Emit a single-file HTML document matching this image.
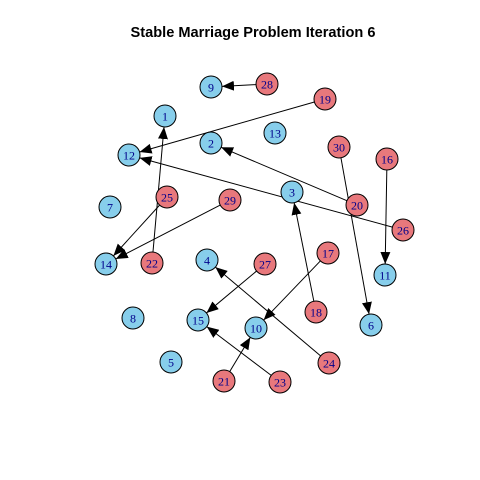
<!DOCTYPE html>
<html><head><style>body{margin:0;background:#fff}svg{display:block}</style></head>
<body>
<svg id="s" width="480" height="480" xmlns="http://www.w3.org/2000/svg">
<defs><marker id="a" markerWidth="12" markerHeight="10" refX="12" refY="5" orient="auto" markerUnits="userSpaceOnUse"><path d="M0,0 L12,5 L0,10 z" fill="#000"/></marker></defs>
<text x="253" y="37" text-anchor="middle" font-family="Liberation Sans, sans-serif" font-weight="bold" font-size="14.6">Stable Marriage Problem Iteration 6</text>
<g id="e"></g><g id="n"></g>
</svg>
<script>
var B={9:[211,87],1:[165,116],13:[275,133],2:[211,143],12:[129,155],7:[110,207],3:[292,192],14:[106,264],4:[207,260],11:[385,275],8:[133,318],15:[198,320],10:[256,328],6:[371,325],5:[171,362]};
var R={28:[267,84],19:[325,99],30:[339,147],16:[387,159],25:[167,197],29:[230,200],20:[357,205],26:[403,230],22:[152,263],27:[265,264],17:[328,253],18:[316,312],24:[329,363],21:[224,381],23:[280,382]};
var E=[[28,9,1],[19,12,1],[26,12,1],[20,2,1],[30,6,1],[16,11,1],[25,14,1],[29,14,1],[22,1,1],[18,3,1],[17,10,1],[27,15,1],[24,4,1],[21,10,1],[23,15,1]];
var r=11,ns="http://www.w3.org/2000/svg",eg=document.getElementById('e'),ng=document.getElementById('n');
function P(k){return R[k]||B[k];}
E.forEach(function(x){var a=P(x[0]),b=P(x[1]),dx=b[0]-a[0],dy=b[1]-a[1],d=Math.hypot(dx,dy);
var l=document.createElementNS(ns,'line');l.setAttribute('x1',a[0]+dx/d*r);l.setAttribute('y1',a[1]+dy/d*r);
l.setAttribute('x2',b[0]-dx/d*r);l.setAttribute('y2',b[1]-dy/d*r);l.setAttribute('stroke','#000');l.setAttribute('stroke-width','1');
if(x[2])l.setAttribute('marker-end','url(#a)');eg.appendChild(l);});
function node(k,p,c){var g=document.createElementNS(ns,'circle');g.setAttribute('cx',p[0]);g.setAttribute('cy',p[1]);g.setAttribute('r',r);g.setAttribute('fill',c);g.setAttribute('stroke','#000');ng.appendChild(g);
var t=document.createElementNS(ns,'text');t.setAttribute('x',p[0]);t.setAttribute('y',p[1]+4.5);t.setAttribute('text-anchor','middle');t.setAttribute('font-family','Liberation Serif, serif');t.setAttribute('font-size','12');t.setAttribute('fill','#00008b');t.textContent=k;ng.appendChild(t);}
for(var k in B)node(k,B[k],'#87ceeb');for(var k in R)node(k,R[k],'#e8787c');
</script>
</body></html>
